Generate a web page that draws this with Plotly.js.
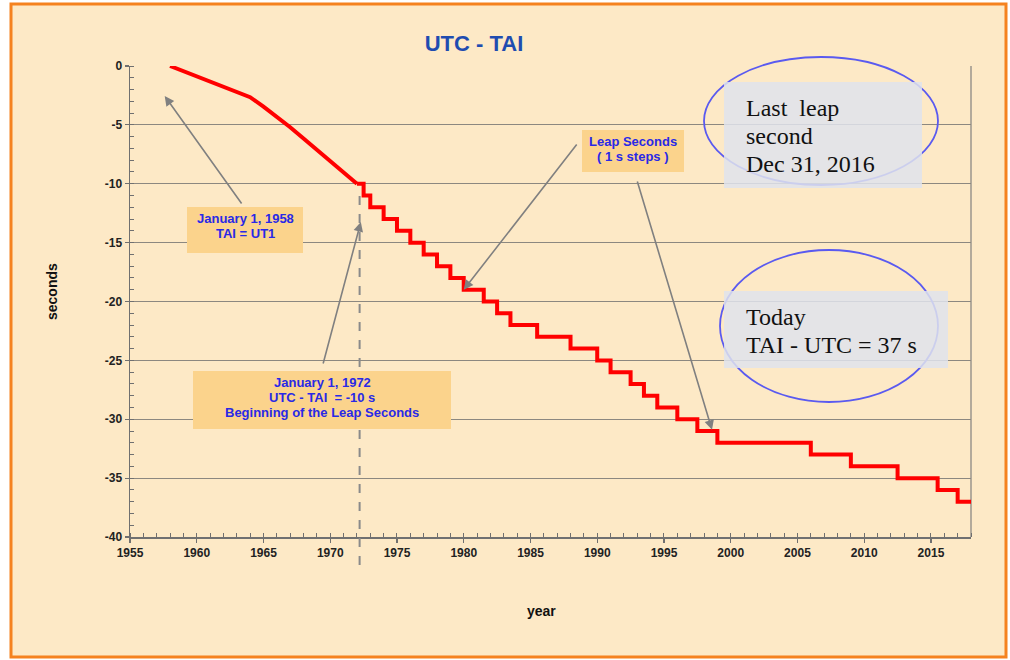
<!DOCTYPE html>
<html>
<head>
<meta charset="utf-8">
<script src="https://cdn.plot.ly/plotly-3.0.1.min.js"></script>
<style>html,body{margin:0;padding:0;background:#fff;}#chart{width:1010px;height:660px;}</style>
</head>
<body>
<div id="chart"></div>
<script>
// Pre-1972 drift of UTC relative to TAI (seconds)
var driftYears = [1958, 1959, 1960, 1961, 1962, 1963, 1964, 1965, 1966, 1967, 1968, 1969, 1970, 1971, 1972];
var driftValues = [0, -0.45, -0.9, -1.35, -1.75, -2.2, -2.65, -3.45, -4.3, -5.2, -6.15, -7.1, -8.0, -9.0, -10];

// Leap-second era: dates of each step and the value after it
var leapYears = [1972.0, 1972.5, 1973.0, 1974.0, 1975.0, 1976.0, 1977.0, 1978.0, 1979.0, 1980.0,
                 1981.5, 1982.5, 1983.5, 1985.5, 1988.0, 1990.0, 1991.0, 1992.5, 1993.5, 1994.5,
                 1996.0, 1997.5, 1999.0, 2006.0, 2009.0, 2012.5, 2015.5, 2017.0, 2018.0];
var leapValues = [-10, -11, -12, -13, -14, -15, -16, -17, -18, -19,
                  -20, -21, -22, -23, -24, -25, -26, -27, -28, -29,
                  -30, -31, -32, -33, -34, -35, -36, -37, -37];

var xTickVals = [1955, 1960, 1965, 1970, 1975, 1980, 1985, 1990, 1995, 2000, 2005, 2010, 2015];
var yTickVals = [0, -5, -10, -15, -20, -25, -30, -35, -40];

var markerYear = 1972.2;

var titleText = 'UTC - TAI';
var xTitleText = 'year';
var yTitleText = 'seconds';
var box1958Lines = ['January 1, 1958', 'TAI = UT1'];
var box1972Lines = ['January 1, 1972', 'UTC - TAI  = -10 s', 'Beginning of the Leap Seconds'];
var boxLeapLines = ['Leap Seconds', '( 1 s steps )'];
var boxLastLines = ['Last  leap', 'second', 'Dec 31, 2016'];
var boxTodayLines = ['Today', 'TAI - UTC = 37 s'];

var FONT = 'Liberation Sans, Arial, sans-serif';
var SERIF = 'Liberation Serif, Times New Roman, serif';
var BLUE = '#2929E6';
var ORANGEBOX = '#FBD38C';
var ARROW = '#808080';

// plot area in pixels: left 130, right 971, top 66, bottom 537
var PL = 130, PW = 841, PB = 537, PH = 471;
function px(x) { return (x - PL) / PW; }
function py(y) { return (PB - y) / PH; }

var traces = [
  {x: driftYears, y: driftValues, type: 'scatter', mode: 'lines',
   line: {color: '#FF0000', width: 4}, hoverinfo: 'skip'},
  {x: leapYears, y: leapValues, type: 'scatter', mode: 'lines',
   line: {color: '#FF0000', width: 4, shape: 'hv'}, hoverinfo: 'skip'}
];

function rect(x0, x1, y0, y1, fill, opacity) {
  return {type: 'rect', xref: 'paper', yref: 'paper', x0: px(x0), x1: px(x1), y0: py(y1), y1: py(y0),
          fillcolor: fill, opacity: opacity || 1, line: {width: 0}, layer: 'above'};
}
function ellipse(x0, x1, y0, y1) {
  return {type: 'circle', xref: 'paper', yref: 'paper', x0: px(x0), x1: px(x1), y0: py(y1), y1: py(y0),
          line: {color: '#5A5AF0', width: 1.8}, layer: 'above'};
}

var shapes = [
  // outer panel
  {type: 'rect', xref: 'paper', yref: 'paper', x0: px(11), x1: px(1006), y0: py(657), y1: py(4),
   fillcolor: '#FDE9C6', line: {color: '#F5821F', width: 3}, layer: 'below'},
  // right frame line of plot area
  {type: 'line', xref: 'paper', yref: 'paper', x0: 1, x1: 1, y0: 0, y1: 1,
   line: {color: '#9A958C', width: 1.5}, layer: 'below'},
  // dashed marker at start of leap seconds
  {type: 'line', xref: 'x', yref: 'paper', x0: markerYear, x1: markerYear, y0: py(565), y1: py(196),
   line: {color: '#8A8A8A', width: 2, dash: 'dash'}, layer: 'above'},
  ellipse(704, 938, 57, 185),
  ellipse(720, 938, 250, 402),
  rect(187, 303, 207, 253, ORANGEBOX),
  rect(193, 451, 371, 429, ORANGEBOX),
  rect(582, 684, 130, 172, ORANGEBOX),
  rect(724, 922, 82, 188, '#DFE3EC', 0.85),
  rect(724, 948, 291, 368, '#DFE3EC', 0.85)
];

function textLines(lines, x, yFirst, gap, xanchor, font) {
  return lines.map(function (t, i) {
    return {text: t, xref: 'paper', yref: 'paper', x: px(x), y: py(yFirst + i * gap),
            xanchor: xanchor, yanchor: 'middle', showarrow: false, font: font};
  });
}
var blueFont = {family: FONT, size: 13, color: BLUE, weight: 'bold'};
var serifFont = {family: SERIF, size: 24, color: '#111'};

function arrow(hx, hy, tx, ty) {
  return {text: '', x: hx, y: hy, ax: tx, ay: ty, xref: 'x', yref: 'y', axref: 'x', ayref: 'y',
          showarrow: true, arrowhead: 2, arrowsize: 1.2, arrowwidth: 1.6, arrowcolor: ARROW, standoff: 0};
}

var annotations = [
  arrow(1957.6, -2.55, 1963.44, -11.8),
  arrow(1972.29, -13.25, 1969.44, -25.4),
  arrow(1980.0, -19.0, 1988.55, -6.54),
  arrow(1998.6, -30.9, 1992.97, -9.68),
  {text: xTitleText, xref: 'paper', yref: 'paper', x: px(541), y: py(611), xanchor: 'center', yanchor: 'middle',
   showarrow: false, font: {family: FONT, size: 14, color: '#111', weight: 'bold'}},
  {text: yTitleText, xref: 'paper', yref: 'paper', x: px(52), y: py(292), xanchor: 'center', yanchor: 'middle',
   textangle: -90, showarrow: false, font: {family: FONT, size: 14, color: '#111', weight: 'bold'}}
]
  .concat(textLines(box1958Lines, 245, 218, 15, 'center', blueFont))
  .concat(textLines(box1972Lines, 322, 382, 15, 'center', blueFont))
  .concat(textLines(boxLeapLines, 633, 141, 15, 'center', blueFont))
  .concat(textLines(boxLastLines, 744, 108, 28, 'left', serifFont))
  .concat(textLines(boxTodayLines, 744, 317, 28, 'left', serifFont));

var tickFont = {family: FONT, size: 12, color: '#222', weight: 'bold'};

var layout = {
  width: 1010, height: 660,
  margin: {l: 130, r: 39, t: 66, b: 123},
  paper_bgcolor: '#FFFFFF',
  plot_bgcolor: 'rgba(0,0,0,0)',
  showlegend: false,
  title: {text: titleText, x: 474 / 1010, xanchor: 'center', y: 1 - 43 / 660, yanchor: 'middle',
          font: {family: FONT, size: 22, color: '#1F4CB0', weight: 'bold'}},
  xaxis: {
    range: [1955, 2018], tickvals: xTickVals, ticktext: xTickVals.map(String),
    showgrid: false, zeroline: false, showline: true, linecolor: '#707070', linewidth: 1.5,
    ticks: 'outside', ticklen: 4, tickcolor: '#707070', tickwidth: 1.2, tickfont: tickFont,
    minor: {dtick: 1, ticks: 'inside', ticklen: 4, tickcolor: '#707070', tickwidth: 1, showgrid: false},
    fixedrange: true
  },
  yaxis: {
    range: [-40, 0], tickvals: yTickVals, ticktext: yTickVals.map(String),
    showgrid: true, gridcolor: '#8C8880', gridwidth: 1, zeroline: false,
    showline: true, linecolor: '#707070', linewidth: 1.5,
    ticks: 'outside', ticklen: 4, tickcolor: '#707070', tickwidth: 1.2, tickfont: tickFont,
    minor: {dtick: 1, ticks: 'inside', ticklen: 4, tickcolor: '#707070', tickwidth: 1, showgrid: false},
    fixedrange: true
  },
  shapes: shapes,
  annotations: annotations
};

Plotly.newPlot('chart', traces, layout, {displayModeBar: false, staticPlot: true});
</script>
</body>
</html>
